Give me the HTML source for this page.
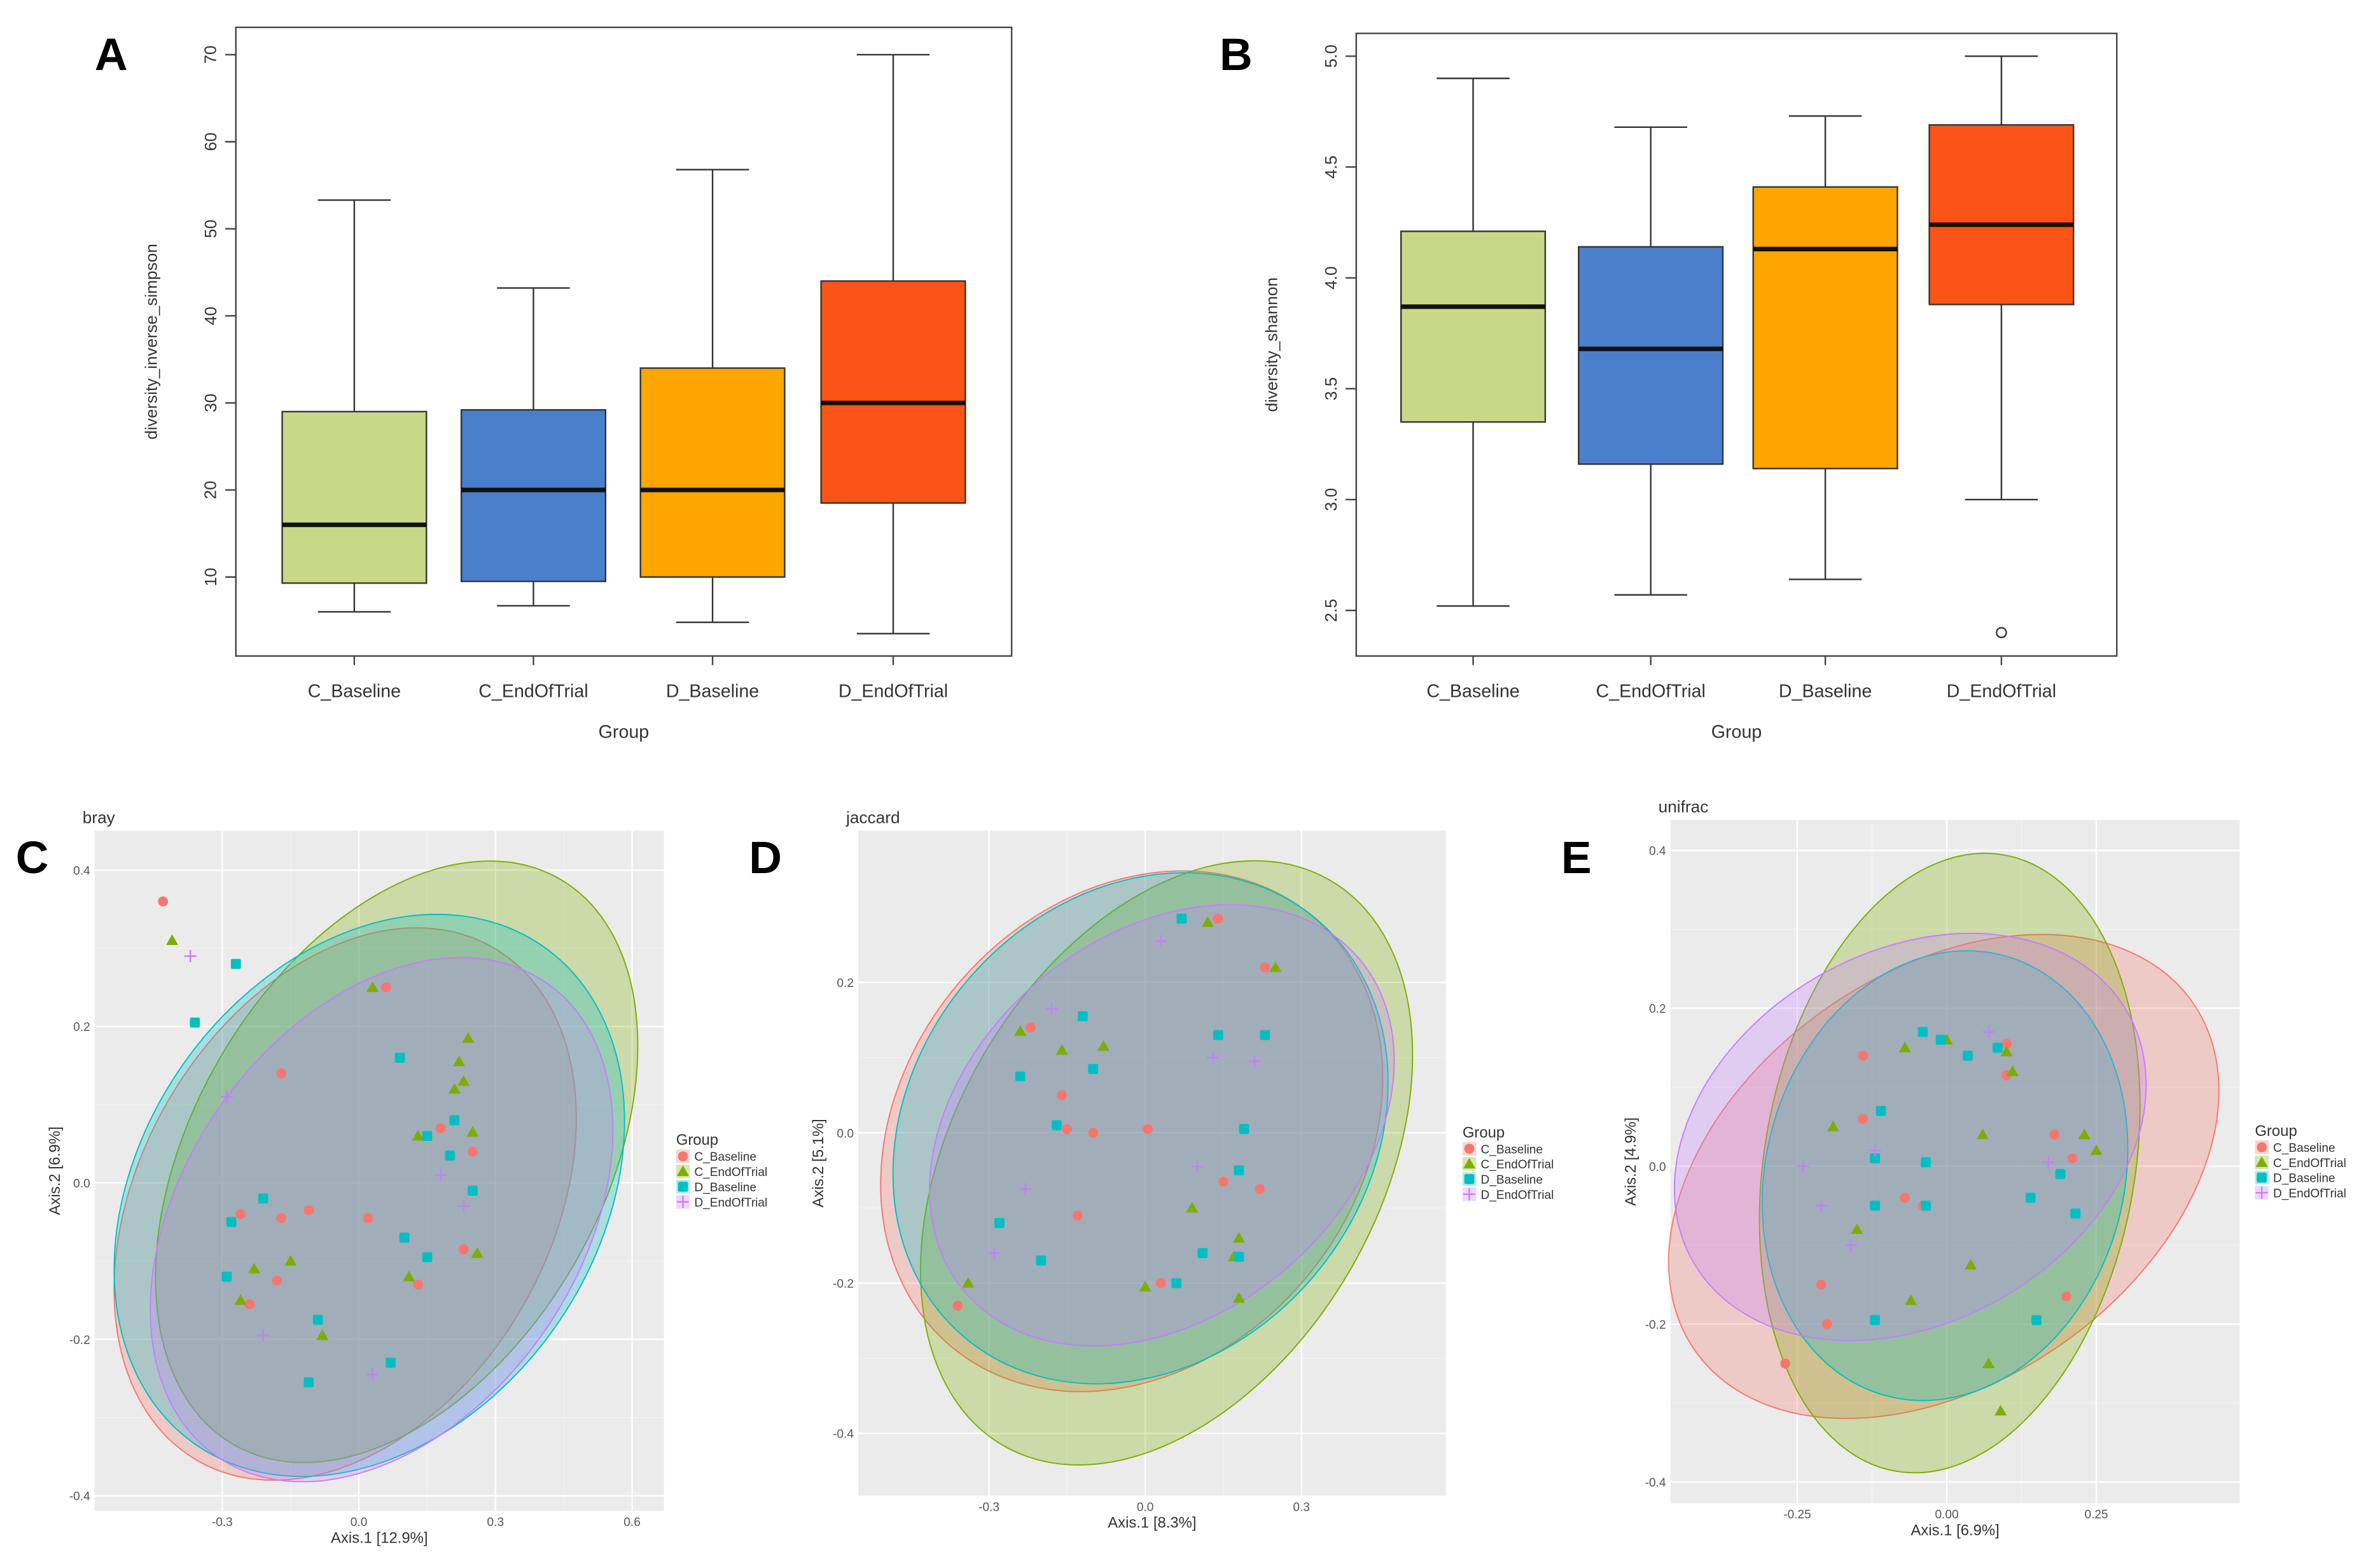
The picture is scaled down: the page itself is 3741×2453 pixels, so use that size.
<!DOCTYPE html>
<html><head><meta charset="utf-8"><style>
html,body{margin:0;padding:0;background:#fff;}
svg{display:block;font-family:"Liberation Sans",sans-serif;}
</style></head><body>
<svg id="fig" width="3741" height="2453" viewBox="0 0 1567 1028" xmlns="http://www.w3.org/2000/svg"></svg>
<script>
// ---- Panel A data (inverse simpson) ----
const groupsAB = ["C_Baseline","C_EndOfTrial","D_Baseline","D_EndOfTrial"];
const simpMin = [6, 6.7, 4.8, 3.5];
const simpQ1  = [9.3, 9.5, 10, 18.5];
const simpMed = [16, 20, 20, 30];
const simpQ3  = [29, 29.2, 34, 44];
const simpMax = [53.3, 43.2, 56.8, 70];
const simpTicks = [10,20,30,40,50,60,70];
// ---- Panel B data (shannon) ----
const shanMin = [2.52, 2.57, 2.64, 3.0];
const shanQ1  = [3.35, 3.16, 3.14, 3.88];
const shanMed = [3.87, 3.68, 4.13, 4.24];
const shanQ3  = [4.21, 4.14, 4.41, 4.69];
const shanMax = [4.9, 4.68, 4.73, 5.0];
const shanOutlierGroup = [3];
const shanOutlierVal = [2.4];
const shanTicks = [2.5,3.0,3.5,4.0,4.5,5.0];
const boxColors = ["#c9d887","#4a7fcc","#ffa500","#fc5417"];

// ---- PCoA data ----
const legendGroups = ["C_Baseline","C_EndOfTrial","D_Baseline","D_EndOfTrial"];
const brayX = [
 [-0.43,-0.17,0.06,-0.26,-0.17,-0.11,0.02,-0.24,-0.18,0.13,0.18,0.23,0.25],
 [-0.41,0.03,-0.26,-0.23,-0.15,-0.08,0.11,0.13,0.22,0.24,0.23,0.25,0.26,0.21],
 [-0.27,-0.36,-0.28,-0.21,-0.29,-0.09,-0.11,0.07,0.09,0.1,0.15,0.15,0.21,0.2,0.25],
 [-0.37,-0.29,-0.21,0.03,0.18,0.23]];
const brayY = [
 [0.36,0.14,0.25,-0.04,-0.045,-0.035,-0.045,-0.155,-0.125,-0.13,0.07,-0.085,0.04],
 [0.31,0.25,-0.15,-0.11,-0.1,-0.195,-0.12,0.06,0.155,0.185,0.13,0.065,-0.09,0.12],
 [0.28,0.205,-0.05,-0.02,-0.12,-0.175,-0.255,-0.23,0.16,-0.07,0.06,-0.095,0.08,0.035,-0.01],
 [0.29,0.11,-0.195,-0.245,0.01,-0.03]];
const jacX = [
 [-0.36,-0.22,-0.16,-0.15,-0.1,0.005,-0.13,0.03,0.14,0.23,0.15,0.22],
 [-0.34,-0.24,-0.16,-0.08,0.12,0.25,0,0.09,0.18,0.18,0.17],
 [-0.28,-0.2,-0.24,-0.17,-0.12,-0.1,0.07,0.14,0.23,0.19,0.18,0.11,0.06,0.18],
 [-0.18,0.03,0.13,0.21,0.1,-0.23,-0.29]];
const jacY = [
 [-0.23,0.14,0.05,0.005,0,0.005,-0.11,-0.2,0.285,0.22,-0.065,-0.075],
 [-0.2,0.135,0.11,0.115,0.28,0.22,-0.205,-0.1,-0.14,-0.22,-0.165],
 [-0.12,-0.17,0.075,0.01,0.155,0.085,0.285,0.13,0.13,0.005,-0.05,-0.16,-0.2,-0.165],
 [0.165,0.255,0.1,0.095,-0.045,-0.075,-0.16]];
const uniX = [
 [-0.27,-0.2,-0.21,-0.14,-0.14,-0.07,-0.04,0.1,0.1,0.18,0.2,0.21],
 [-0.19,-0.15,-0.07,0,0.06,0.04,-0.06,0.07,0.09,0.11,0.23,0.25,0.1],
 [-0.12,-0.11,-0.12,-0.04,-0.01,-0.035,-0.035,0.085,0.035,0.14,0.19,0.215,0.15,-0.12],
 [-0.24,-0.21,-0.16,-0.12,0.07,0.17]];
const uniY = [
 [-0.25,-0.2,-0.15,0.14,0.06,-0.04,-0.05,0.155,0.115,0.04,-0.165,0.01],
 [0.05,-0.08,0.15,0.16,0.04,-0.125,-0.17,-0.25,-0.31,0.12,0.04,0.02,0.145],
 [0.01,0.07,-0.05,0.17,0.16,0.005,-0.05,0.15,0.14,-0.04,-0.01,-0.06,-0.195,-0.195],
 [0,-0.05,-0.1,0.02,0.17,0.005]];
// ellipse centres (data units)
const brayEllCx = [-0.03,0.083,0.023,0.05];
const brayEllCy = [-0.027,0.027,-0.016,-0.047];
const jacEllCx = [-0.026,0.041,-0.009,0.032];
const jacEllCy = [0.002,-0.04,0.006,0.01];
const uniEllCx = [-0.005,0.005,-0.003,-0.061];
const uniEllCy = [-0.013,0.004,-0.012,0.037];
const brayTicksX=[-0.3,0,0.3,0.6], brayTicksY=[-0.4,-0.2,0,0.2,0.4];
const jacTicksX=[-0.3,0,0.3], jacTicksY=[-0.4,-0.2,0,0.2];
const uniTicksX=[-0.25,0,0.25], uniTicksY=[-0.4,-0.2,0,0.2,0.4];

const ptColors=["#F8766D","#7CAE00","#00BFC4","#C77CFF"];
const NS="http://www.w3.org/2000/svg";
const svg=document.getElementById('fig');
function mk(tag,attrs,parent){const e=document.createElementNS(NS,tag);for(const k in attrs)e.setAttribute(k,attrs[k]);(parent||svg).appendChild(e);return e;}
function txt(s,attrs,parent){const e=mk('text',attrs,parent);e.textContent=s;return e;}

// ---------- Boxplot panels ----------
function boxPanel(id,x0,x1,y0,y1,yS,ticks,mins,q1,med,q3,maxs,yTitle,fmt,centers,letter,lx){
  const g=mk('g',{});
  
  
  const fr=mk('rect',{x:x0,y:y0,width:x1-x0,height:y1-y0,fill:'none',stroke:'#444','stroke-width':1},g);
  
  
  ticks.forEach(t=>{
    const y=yS(t);
    mk('line',{x1:x0-7,x2:x0,y1:y,y2:y,stroke:'#444'},g);
    const l=txt(fmt(t),{x:x0-13,y:y,'font-size':11,fill:'#333','text-anchor':'middle',transform:`rotate(-90 ${x0-13} ${y})`},g);
    
    
  });
  const w=95;
  groupsAB.forEach((gname,i)=>{
    const cx=centers[i];
    const bg=mk('g',{},g);
    
    
    mk('line',{x1:cx,x2:cx,y1:yS(maxs[i]),y2:yS(q3[i]),stroke:'#333','stroke-dasharray':'none'},bg);
    mk('line',{x1:cx,x2:cx,y1:yS(q1[i]),y2:yS(mins[i]),stroke:'#333'},bg);
    mk('line',{x1:cx-24,x2:cx+24,y1:yS(maxs[i]),y2:yS(maxs[i]),stroke:'#333'},bg);
    mk('line',{x1:cx-24,x2:cx+24,y1:yS(mins[i]),y2:yS(mins[i]),stroke:'#333'},bg);
    mk('rect',{x:cx-w/2,y:yS(q3[i]),width:w,height:yS(q1[i])-yS(q3[i]),fill:boxColors[i],stroke:'#333'},bg);
    mk('line',{x1:cx-w/2,x2:cx+w/2,y1:yS(med[i]),y2:yS(med[i]),stroke:'#111','stroke-width':3},bg);
    mk('line',{x1:cx,x2:cx,y1:y1,y2:y1+6,stroke:'#444'},g);
    const xl=txt(gname,{x:cx,y:y1+27,'font-size':12,fill:'#333','text-anchor':'middle'},g);
    
    
  });
  const xt=txt('Group',{x:(x0+x1)/2,y:y1+54,'font-size':12,fill:'#333','text-anchor':'middle'},g);
  
  
  const ymid=(y0+y1)/2;
  const yt=txt(yTitle,{x:x0-52,y:ymid,'font-size':11,fill:'#333','text-anchor':'middle',transform:`rotate(-90 ${x0-52} ${ymid})`},g);
  
  
  const L=txt(letter,{x:lx,y:46,'font-size':30,'font-weight':'bold',fill:'#000'},g);
  
  
  return g;
}
const yA=v=>380-(v-10)*5.733;
const yB=v=>402-(v-2.5)*146;
const gA=boxPanel('diversity-inverse-simpson',155,666,18,432,yA,simpTicks,simpMin,simpQ1,simpMed,simpQ3,simpMax,'diversity_inverse_simpson',t=>String(t),[233,351,469,588],'A',62);
const gB=boxPanel('diversity-shannon',893,1394,22,432,yB,shanTicks,shanMin,shanQ1,shanMed,shanQ3,shanMax,'diversity_shannon',t=>t.toFixed(1),[970,1087,1202,1318],'B',803);
shanOutlierGroup.forEach((gi,k)=>{
  const c=mk('circle',{cx:[970,1087,1202,1318][gi],cy:yB(shanOutlierVal[k]),r:3.2,fill:'none',stroke:'#333'},gB);
  
  
});

// ---------- PCoA panels ----------
const ellShape={bray:[[195,135,-60],[215,135,-60],[200,150,-55],[190,130,-55]],
 jac:[[185,150,-50],[215,140,-60],[180,150,-50],[170,125,-40]],
 uni:[[200,135,-35],[206,122,-80],[150,118,-75],[165,122,-30]]};
function marker(g,k,x,y){
  const c=ptColors[k];let e;
  if(k===0)e=mk('circle',{cx:x,cy:y,r:3.3,fill:c},g);
  else if(k===1)e=mk('polygon',{points:`${x},${y-4} ${x-4},${y+3} ${x+4},${y+3}`,fill:c},g);
  else if(k===2)e=mk('rect',{x:x-3.3,y:y-3.3,width:6.6,height:6.6,fill:c,rx:1},g);
  else e=mk('path',{d:`M${x-4},${y}H${x+4}M${x},${y-4}V${y+4}`,stroke:c,'stroke-width':1},g);
  return e;
}
function pcoa(id,px0,px1,py0,py1,ox,sx,oy,sy,tx,ty,X,Y,ecx,ecy,shape,title,xt,yt,letter,lx,ly,legx,fmtX){
  const sX=v=>ox+sx*v, sY=v=>oy-sy*v;
  const g=mk('g',{});
  
  
  const bg=mk('rect',{x:px0,y:py0,width:px1-px0,height:py1-py0,fill:'#ebebeb'},g);
  
  
  // minor grid
  for(let i=0;i<tx.length-1;i++){const m=sX((tx[i]+tx[i+1])/2);mk('line',{x1:m,x2:m,y1:py0,y2:py1,stroke:'#f4f4f4','stroke-width':0.5},g);}
  for(let i=0;i<ty.length-1;i++){const m=sY((ty[i]+ty[i+1])/2);mk('line',{x1:px0,x2:px1,y1:m,y2:m,stroke:'#f4f4f4','stroke-width':0.5},g);}
  tx.forEach(t=>{const x=sX(t);mk('line',{x1:x,x2:x,y1:py0,y2:py1,stroke:'#fff','stroke-width':1},g);
    const l=txt(fmtX(t),{x:x,y:py1+10,'font-size':8,fill:'#555','text-anchor':'middle'},g);
    
    });
  ty.forEach(t=>{const y=sY(t);mk('line',{x1:px0,x2:px1,y1:y,y2:y,stroke:'#fff','stroke-width':1},g);
    const l=txt(t.toFixed(1),{x:px0-3,y:y+3,'font-size':8,fill:'#555','text-anchor':'end'},g);
    
    });
  for(let k=0;k<4;k++){
    const cx=sX(ecx[k]),cy=sY(ecy[k]),s=shape[k];
    const e=mk('ellipse',{cx:cx,cy:cy,rx:s[0],ry:s[1],transform:`rotate(${s[2]} ${cx} ${cy})`,fill:ptColors[k],'fill-opacity':0.28,stroke:ptColors[k],'stroke-width':0.8},g);
    
    
  }
  for(let k=0;k<4;k++){
    X[k].forEach((v,i)=>{
      const e=marker(g,k,sX(v),sY(Y[k][i]));
      
      
    });
  }
  const ti=txt(title,{x:px0-8,y:py0-5,'font-size':11,fill:'#333'},g);
  
  
  const xa=txt(xt,{x:(px0+px1)/2,y:py1+21,'font-size':10,fill:'#333','text-anchor':'middle'},g);
  
  
  const ym=(py0+py1)/2,yx=px0-23;
  const ya=txt(yt,{x:yx,y:ym,'font-size':10,fill:'#333','text-anchor':'middle',transform:`rotate(-90 ${yx} ${ym})`},g);
  
  
  const L=txt(letter,{x:lx,y:ly,'font-size':30,'font-weight':'bold',fill:'#000'},g);
  
  
  const lg=mk('g',{},g);
  
  
  const lt=txt('Group',{x:legx,y:ym-17,'font-size':10,fill:'#333'},lg);
  
  
  legendGroups.forEach((n,k)=>{
    const y=ym-10+k*10;
    mk('rect',{x:legx,y:y-4,width:9,height:9,fill:ptColors[k],'fill-opacity':0.3},lg);
    marker(lg,k,legx+4.5,y+0.5);
    const t=txt(n,{x:legx+12,y:y+3.5,'font-size':8,fill:'#333'},lg);
    
    
  });
}
const f1=t=>t===0?'0.0':t.toFixed(1), f2=t=>t===0?'0.00':t.toFixed(2);
pcoa('bray',62,437,547,995,236,300,779,515,brayTicksX,brayTicksY,brayX,brayY,brayEllCx,brayEllCy,ellShape.bray,'bray','Axis.1   [12.9%]','Axis.2   [6.9%]','C',10,575,445,f1);
pcoa('jaccard',565,952,547,985,754,343,746,495,jacTicksX,jacTicksY,jacX,jacY,jacEllCx,jacEllCy,ellShape.jac,'jaccard','Axis.1   [8.3%]','Axis.2   [5.1%]','D',493,575,963,f1);
pcoa('unifrac',1100,1475,540,990,1282,394,768,520,uniTicksX,uniTicksY,uniX,uniY,uniEllCx,uniEllCy,ellShape.uni,'unifrac','Axis.1   [6.9%]','Axis.2   [4.9%]','E',1028,575,1485,f2);
</script>
</body></html>
